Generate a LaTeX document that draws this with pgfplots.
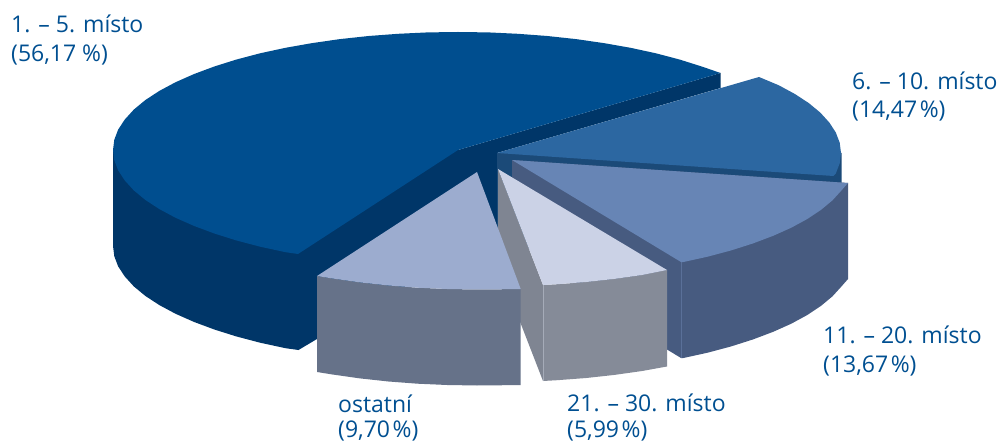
\documentclass[border=0pt]{standalone}
\usepackage{pgfplots}
\pgfplotsset{compat=1.18}
\usepackage{fontspec}
\setmainfont{Open Sans}
\definecolor{atop}{HTML}{004E8F}
\definecolor{awall}{HTML}{003668}
\definecolor{btop}{HTML}{2C67A1}
\definecolor{bwall}{HTML}{1B4A78}
\definecolor{ctop}{HTML}{6785B5}
\definecolor{cwall}{HTML}{475B80}
\definecolor{cseam}{HTML}{5A7099}
\definecolor{dtop}{HTML}{CBD2E6}
\definecolor{dwall}{HTML}{858B98}
\definecolor{dinner}{HTML}{7F8592}
\definecolor{dseam}{HTML}{A5ABB8}
\definecolor{etop}{HTML}{9CACCF}
\definecolor{ewall}{HTML}{667289}
\definecolor{txt}{HTML}{004F91}
\begin{document}
\begin{tikzpicture}
\path[use as bounding box] (0,0) rectangle (1000pt,443pt);
\begin{axis}[at={(0,0)},anchor=south west,scale only axis,width=1000pt,height=443pt,
  xmin=0,xmax=1000,ymin=0,ymax=443,y dir=reverse,hide axis,clip=false,
  every axis plot/.append style={draw=none,mark=none}]
% 1.-5. misto: wall and inner faces
\addplot[fill=awall] coordinates {(113,150)(113,246)(114.3,256.3)(118.2,266.5)(124.8,276.5)(133.8,286.4)(145.3,295.9)(159.2,305)(175.4,313.7)(193.7,321.8)(214,329.4)(236.2,336.4)(260.1,342.7)(285.5,348.2)(298.5,350)(317,339)(497,240)(497,153)(720.5,88)(720.5,73)(458,150)} --cycle;
% 1.-5. misto: top
\addplot[fill=atop] coordinates {(458,150)(720.5,73)(702,66.6)(679.8,59.6)(655.9,53.3)(630.5,47.8)(603.8,43.1)(576,39.1)(547.3,36)(517.9,33.8)(488.1,32.4)(458,32)(427.9,32.4)(398.1,33.8)(368.7,36)(340,39.1)(312.2,43.1)(285.5,47.8)(260.1,53.3)(236.2,59.6)(214,66.6)(193.7,74.2)(175.4,82.3)(159.2,91)(145.3,100.1)(133.8,109.6)(124.8,119.5)(118.2,129.5)(114.3,139.7)(113,150)(114.3,160.3)(118.2,170.5)(124.8,180.5)(133.8,190.4)(145.3,199.9)(159.2,209)(175.4,217.7)(193.7,225.8)(214,233.4)(236.2,240.4)(260.1,246.7)(285.5,252.2)(298,254)} --cycle;
% 6.-10. misto
\addplot[fill=bwall] coordinates {(497,153)(841.5,153)(841.5,183)(700,250)(497,250)} --cycle;
\addplot[fill=btop] coordinates {(497,153)(759,77)(778.8,85.3)(794.9,94)(808.8,103.1)(820.3,112.6)(829.3,122.5)(835.8,132.5)(839.7,142.7)(841,153)(839.7,163.3)(835.8,173.5)(833.5,176)} --cycle;
% 11.-20. misto
\addplot[fill=cwall] coordinates {(512,160)(848,183)(848,279)(841.4,286.5)(832.4,296.4)(821,305.9)(807.3,315)(791.3,323.7)(773.2,331.8)(753.1,339.4)(731.2,346.4)(707.6,352.7)(682.5,358.2)(681,358)(667,349.5)(530,250)(512,180)} --cycle;
\addplot[draw=cseam,line width=0.5pt] coordinates {(681,262)(681,358)};
\addplot[fill=ctop] coordinates {(512,160)(848,183)(841.4,190.5)(832.4,200.4)(821,209.9)(807.3,219)(791.3,227.7)(773.2,235.8)(753.1,243.4)(731.2,250.4)(707.6,256.7)(682.5,262.2)(681,262)} --cycle;
% 21.-30. misto
\addplot[fill=dinner] coordinates {(498,169)(498,265)(543,381)(543,285)} --cycle;
\addplot[fill=dwall] coordinates {(543,285)(543,381)(557.2,380.2)(586.3,378)(614.6,374.9)(642.1,371)(667,366.5)(667,270)(642.1,275)(614.6,278.9)(586.3,282)(557.2,284.2)} --cycle;
\addplot[draw=dseam,line width=0.5pt] coordinates {(543,285)(543,381)};
\addplot[fill=dtop] coordinates {(498,169)(667,270)(642.1,275)(614.6,278.9)(586.3,282)(557.2,284.2)(543,285)} --cycle;
% ostatni
\addplot[fill=ewall] coordinates {(317,276)(317,372)(332.5,374.5)(360,378.4)(388.5,381.5)(417.6,383.7)(447.2,385)(477,385.5)(506.8,385.2)(520.7,385)(520.7,289)(506.8,289.2)(477,289.5)(447.2,289)(417.6,287.7)(388.5,285.5)(360,282.4)(332.5,278.5)} --cycle;
\addplot[fill=etop] coordinates {(477,172)(520.7,289)(506.8,289.2)(477,289.5)(447.2,289)(417.6,287.7)(388.5,285.5)(360,282.4)(332.5,278.5)(317,276)} --cycle;
% labels
\tikzset{lab/.style={anchor=base west,inner sep=0pt,text=txt,font=\fontsize{23}{27}\selectfont}}
\node[lab] at (axis cs:11,33) {1. – 5. místo};
\node[lab] at (axis cs:11,62) {(56,17\kern6pt\%)};
\node[lab] at (axis cs:852,90) {6. – 10. místo};
\node[lab] at (axis cs:852,118) {(14,47\kern2.5pt\%)};
\node[lab] at (axis cs:823,343) {11. – 20. místo};
\node[lab] at (axis cs:823,372) {(13,67\kern2.5pt\%)};
\node[lab] at (axis cs:338,412) {ostatní};
\node[lab] at (axis cs:338,437) {(9,70\kern2.5pt\%)};
\node[lab] at (axis cs:567,411) {21. – 30. místo};
\node[lab] at (axis cs:567,437) {(5,99\kern2.5pt\%)};
\end{axis}
\end{tikzpicture}
\end{document}
